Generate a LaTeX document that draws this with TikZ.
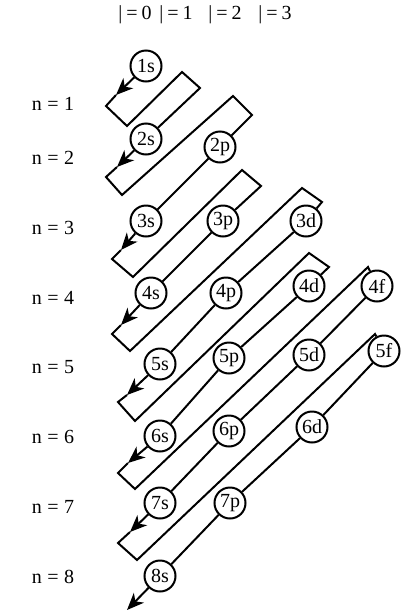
\documentclass[tikz,border=0pt]{standalone}
\usepackage{fontspec}
\setmainfont{Liberation Serif}
\usetikzlibrary{arrows.meta}
\newcommand\qlev[2]{#1\hspace{5.5pt}=\hspace{5.5pt}#2}
\newcommand\qtop[2]{#1\hspace{4pt}=\hspace{4pt}#2}
\tikzset{
  orb/.style={circle,draw,line width=2pt,fill=white,minimum size=31pt,
    inner sep=0pt,font=\fontsize{20}{20}\selectfont},
  tube/.style={line width=2pt,line join=miter},
  fall/.style={tube,-{Stealth[length=17pt,width=14pt,inset=5pt]}},
  lvl/.style={font=\fontsize{20}{20}\selectfont}
}

\begin{document}
\begin{tikzpicture}[x=1pt,y=-1pt]
  \useasboundingbox (0,0) rectangle (408,614);
  % quantum number l across the top
  \node[lvl] (l0) at (135,15) {\qtop{|}{0}};
  \node[lvl] (l1) at (176,15) {\qtop{|}{1}};
  \node[lvl] (l2) at (225,15) {\qtop{|}{2}};
  \node[lvl] (l3) at (275,15) {\qtop{|}{3}};
  % shells
  \node[lvl] (n1) at (53,104) {\qlev{n}{1}};
  \node[lvl] (n2) at (53,158) {\qlev{n}{2}};
  \node[lvl] (n3) at (53,228) {\qlev{n}{3}};
  \node[lvl] (n4) at (53,298) {\qlev{n}{4}};
  \node[lvl] (n5) at (53,367) {\qlev{n}{5}};
  \node[lvl] (n6) at (53,437) {\qlev{n}{6}};
  \node[lvl] (n7) at (53,507) {\qlev{n}{7}};
  \node[lvl] (n8) at (53,577) {\qlev{n}{8}};
  % orbitals
  \node[orb] (s1) at (146,66) {1s};
  \node[orb] (s2) at (146,139) {2s};
  \node[orb] (p2) at (220,147) {2p};
  \node[orb] (s3) at (146,221) {3s};
  \node[orb] (p3) at (223,221) {3p};
  \node[orb] (d3) at (306,221) {3d};
  \node[orb] (s4) at (151,293) {4s};
  \node[orb] (p4) at (226,293) {4p};
  \node[orb] (d4) at (309,286) {4d};
  \node[orb] (f4) at (377,286) {4f};
  \node[orb] (s5) at (160,364) {5s};
  \node[orb] (p5) at (229,358) {5p};
  \node[orb] (d5) at (309,355) {5d};
  \node[orb] (f5) at (384,351) {5f};
  \node[orb] (s6) at (160,436) {6s};
  \node[orb] (p6) at (229,431) {6p};
  \node[orb] (d6) at (312,427) {6d};
  \node[orb] (s7) at (160,503) {7s};
  \node[orb] (p7) at (230,503) {7p};
  \node[orb] (s8) at (160,576) {8s};
  % corners of the zigzag
  \coordinate (a1) at (116,95);  \coordinate (c1) at (106,106); \coordinate (b1) at (127,126);
  \coordinate (t2) at (182,72);  \coordinate (r2) at (200,88);
  \coordinate (a2) at (117,167); \coordinate (c2) at (106,177); \coordinate (b2) at (122,195);
  \coordinate (t3) at (233,96);  \coordinate (r3) at (252,115);
  \coordinate (a3) at (121,250); \coordinate (c3) at (112,259); \coordinate (b3) at (133,277);
  \coordinate (t4) at (242,170); \coordinate (r4) at (261,186);
  \coordinate (a4) at (121,325); \coordinate (c4) at (112,334); \coordinate (b4) at (130,351);
  \coordinate (t5) at (302,188); \coordinate (r5) at (322,202);
  \coordinate (a5) at (127,395); \coordinate (c5) at (118,402); \coordinate (b5) at (135,421);
  \coordinate (t6) at (309,253); \coordinate (r6) at (329,267);
  \coordinate (a6) at (128,463); \coordinate (c6) at (118,473); \coordinate (b6) at (135,489);
  \coordinate (t7) at (368,267);
  \coordinate (a7) at (130,532); \coordinate (c7) at (118,543); \coordinate (b7) at (137,560);
  \coordinate (t8) at (375,334);
  \coordinate (a8) at (127,610);
  % filling order
  \draw[fall] (s1) -- (a1);
  \draw[tube] (a1) -- (c1) -- (b1) -- (t2) -- (r2) -- (s2);
  \draw[fall] (s2) -- (a2);
  \draw[tube] (a2) -- (c2) -- (b2) -- (t3) -- (r3) -- (p2) (p2) -- (s3);
  \draw[fall] (s3) -- (a3);
  \draw[tube] (a3) -- (c3) -- (b3) -- (t4) -- (r4) -- (p3) (p3) -- (s4);
  \draw[fall] (s4) -- (a4);
  \draw[tube] (a4) -- (c4) -- (b4) -- (t5) -- (r5) -- (d3) (d3) -- (p4) (p4) -- (s5);
  \draw[fall] (s5) -- (a5);
  \draw[tube] (a5) -- (c5) -- (b5) -- (t6) -- (r6) -- (d4) (d4) -- (p5) (p5) -- (s6);
  \draw[fall] (s6) -- (a6);
  \draw[tube] (a6) -- (c6) -- (b6) -- (t7) -- (f4) (f4) -- (d5) (d5) -- (p6) (p6) -- (s7);
  \draw[fall] (s7) -- (a7);
  \draw[tube] (a7) -- (c7) -- (b7) -- (t8) -- (f5) (f5) -- (d6) (d6) -- (p7) (p7) -- (s8);
  \draw[fall] (s8) -- (a8);
\end{tikzpicture}
\end{document}
